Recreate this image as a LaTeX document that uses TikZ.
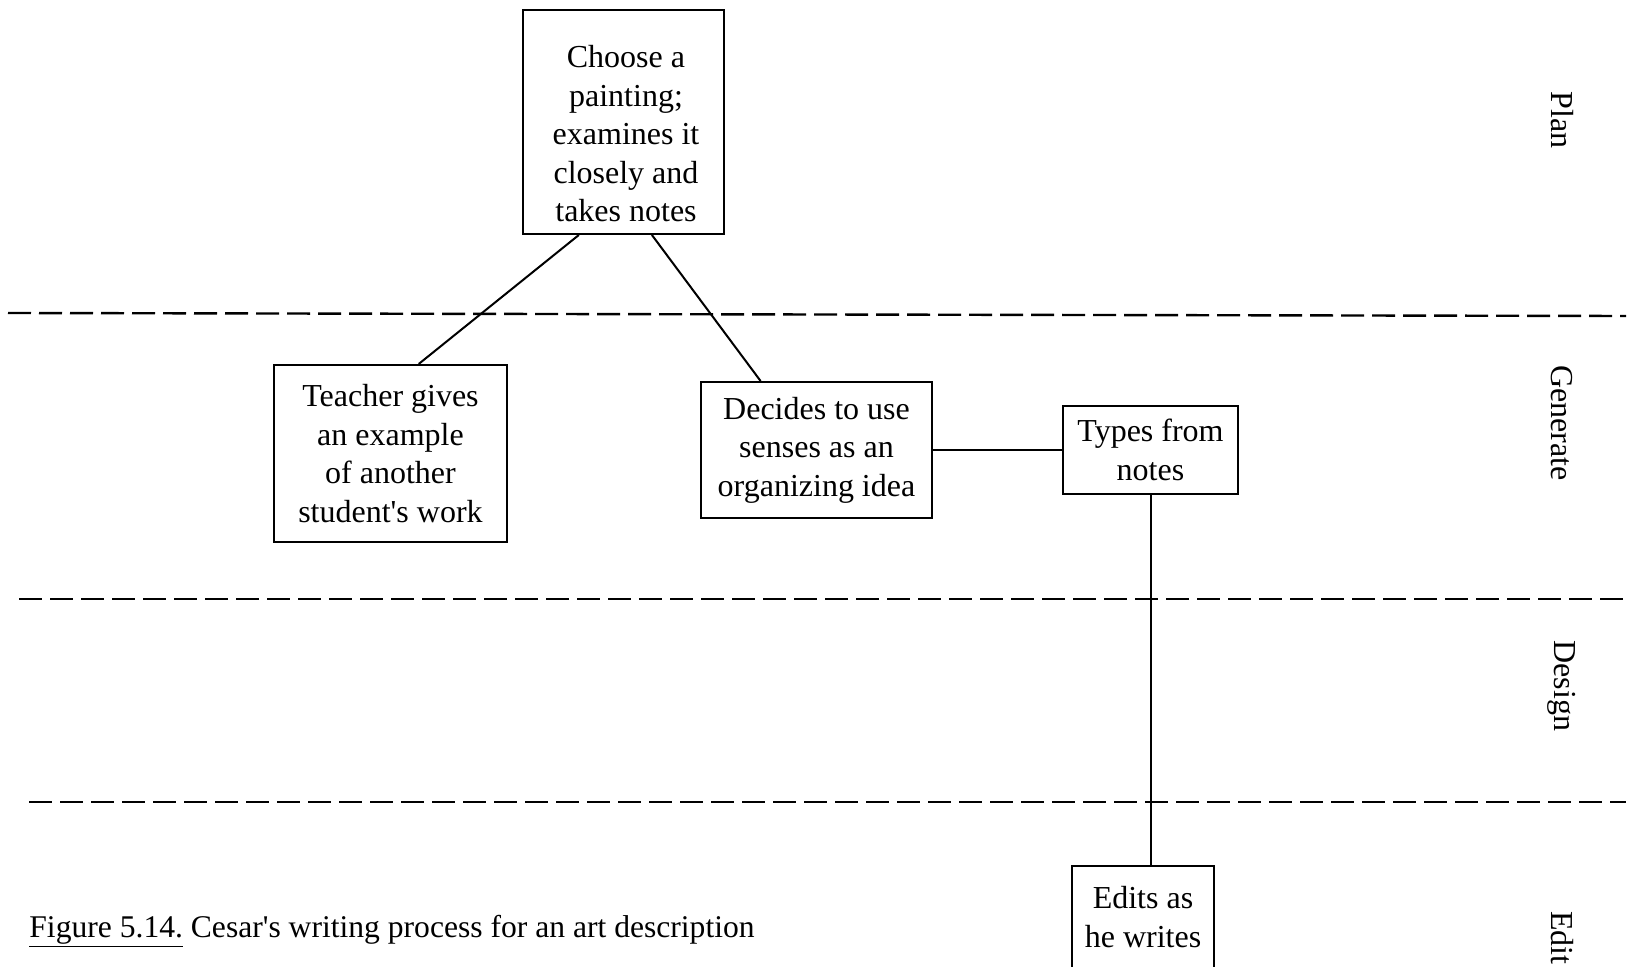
\documentclass[tikz,border=0pt]{standalone}
\usepackage{fontspec}
\setmainfont{Liberation Serif}
\usetikzlibrary{calc}

\begin{document}
\begin{tikzpicture}[x=0.5pt,y=-0.5pt,
  box/.style={draw,line width=1pt,align=center,inner sep=0pt,
    font=\fontsize{16}{19.25}\selectfont},
  boxtext/.style={align=center,inner sep=0pt,font=\fontsize{16}{19.25}\selectfont},
  link/.style={line width=1pt},
  divider/.style={line width=1.2pt,dash pattern=on 11.5pt off 4pt},
  phase/.style={rotate=-90,inner sep=0pt,font=\fontsize{16}{19}\selectfont}]

\useasboundingbox (0,0) rectangle (1634,967);
\clip (0,0) rectangle (1634,967);

% phase boundaries
\draw[divider] (8,313) -- (1626,316);
\draw[divider] (19,599) -- (1629,599);
\draw[divider] (29,802) -- (1626,802);

% phase names
\node[phase] (plan) at (1562,120) {Plan};
\node[phase] (generate) at (1562,423) {Generate};
\node[phase] (design) at (1562,686) {Design};
\node[phase] (edit) at (1562,938) {Edit};

% steps
\node[box,minimum width=100.5pt,minimum height=112pt] (choose) at (623.5,122) {};
\node[boxtext] (choosetext) at (626,134)
  {Choose a\\painting;\\examines it\\closely and\\takes notes};
\node[box,minimum width=116.5pt,minimum height=88.5pt] (teacher) at (390.5,453.5)
  {Teacher gives\\an example\\of another\\student\textquotesingle s work};
\node[box,minimum width=115.5pt,minimum height=68pt] (decides) at (816.5,450)
  {Decides to use\\senses as an\\organizing idea};
\node[box,minimum width=87.5pt,minimum height=44pt] (types) at (1150.5,450)
  {Types from\\notes};
\node[box,minimum width=71pt,minimum height=56pt] (edits) at (1143,922) {};
\node[boxtext] (editstext) at (1143,917) {Edits as\\he writes};

% connections
\draw[link] ($(choose.south west)!0.28!(choose.south east)$) --
            ($(teacher.north west)!0.62!(teacher.north east)$);
\draw[link] ($(choose.south west)!0.64!(choose.south east)$) --
            ($(decides.north west)!0.26!(decides.north east)$);
\draw[link] (decides.east) -- (types.west);
\draw[link] (types.south) -- (types.south |- edits.north);

% caption
\node[anchor=base west,inner sep=0pt,font=\fontsize{15.8}{18}\selectfont] (caption) at (29,937)
  {\underline{Figure 5.14.} Cesar\textquotesingle s writing process for an art description};
\end{tikzpicture}
\end{document}
